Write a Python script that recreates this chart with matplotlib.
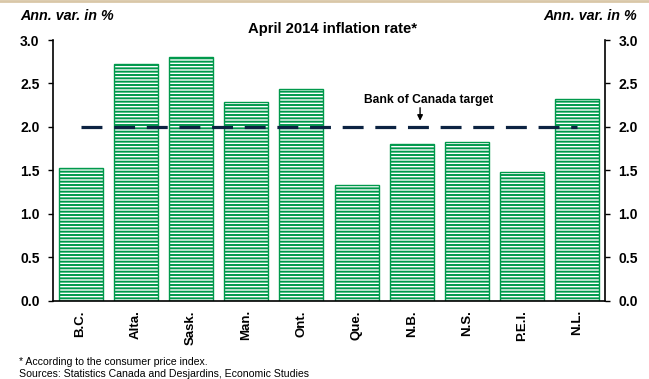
import numpy as np
import matplotlib.pyplot as plt

plt.rcParams['font.family'] = ['Liberation Sans', 'DejaVu Sans']
plt.rcParams['hatch.linewidth'] = 1.4

provinces = ['B.C.', 'Alta.', 'Sask.', 'Man.', 'Ont.', 'Que.', 'N.B.', 'N.S.', 'P.E.I.', 'N.L.']
inflation = [1.53, 2.72, 2.80, 2.29, 2.44, 1.33, 1.80, 1.82, 1.48, 2.32]
target = 2.0
yticks = [0.0, 0.5, 1.0, 1.5, 2.0, 2.5, 3.0]

green = '#00994c'
navy = '#0c2342'

fig = plt.figure(figsize=(6.49, 3.79), dpi=100)
ax = fig.add_axes([53/649, 1 - 300.5/379, 552/649, 260.5/379])

x = np.arange(len(provinces))
ax.bar(x, inflation, width=0.8, color='white', edgecolor=green,
       hatch='-----', linewidth=1.0)

# 2% target line with its label
ax.plot([x[0], x[-1]], [target, target], color=navy, lw=2.3,
        linestyle=(0, (6.55, 3.67)), zorder=3)
ax.annotate('', xy=(6.15, 2.07), xytext=(6.15, 2.22),
            arrowprops=dict(arrowstyle='-|>', color='black', lw=1.0,
                            mutation_scale=8, shrinkA=0, shrinkB=0))
ax.text(6.3, 2.275, 'Bank of Canada target', ha='center', va='baseline',
        fontsize=8.7, fontweight='bold')

ax.set_xlim(-0.5, len(provinces) - 0.5)
ax.set_ylim(0, 3.0)
ax.set_yticks(yticks)
ax.set_yticklabels([f'{v:.1f}' for v in yticks], fontsize=10, fontweight='bold')
ax.tick_params(axis='y', length=3.6, width=1, left=True, right=True,
               labelleft=True, labelright=True)
for t in ax.yaxis.get_major_ticks():
    t.label2.set_fontweight('bold')
    t.label2.set_fontsize(10)
    t.set_pad(6)
ax.set_xticks(x)
ax.set_xticklabels(provinces, rotation=90, fontsize=9.5, fontweight='bold')
ax.tick_params(axis='x', length=0, pad=7)
ax.spines['top'].set_visible(False)
for s in ['left', 'right', 'bottom']:
    ax.spines[s].set_linewidth(1.2)

fig.text(333/649, 1 - 29/379, 'April 2014 inflation rate*', ha='center', va='center',
         fontsize=10.7, fontweight='bold')
fig.text(20/649, 1 - 16/379, 'Ann. var. in %', ha='left', va='center',
         fontsize=10.3, fontweight='bold', style='italic')
fig.text(637/649, 1 - 16/379, 'Ann. var. in %', ha='right', va='center',
         fontsize=10.3, fontweight='bold', style='italic')
fig.text(19/649, 1 - 362/379, '* According to the consumer price index.',
         fontsize=7.6, va='center')
fig.text(19/649, 1 - 374/379, 'Sources: Statistics Canada and Desjardins, Economic Studies',
         fontsize=7.6, va='center')
fig.add_artist(plt.Line2D([0, 1], [1 - 1/379, 1 - 1/379], color='#d9c7a8', lw=2))

fig.savefig('out.png', dpi=100)
